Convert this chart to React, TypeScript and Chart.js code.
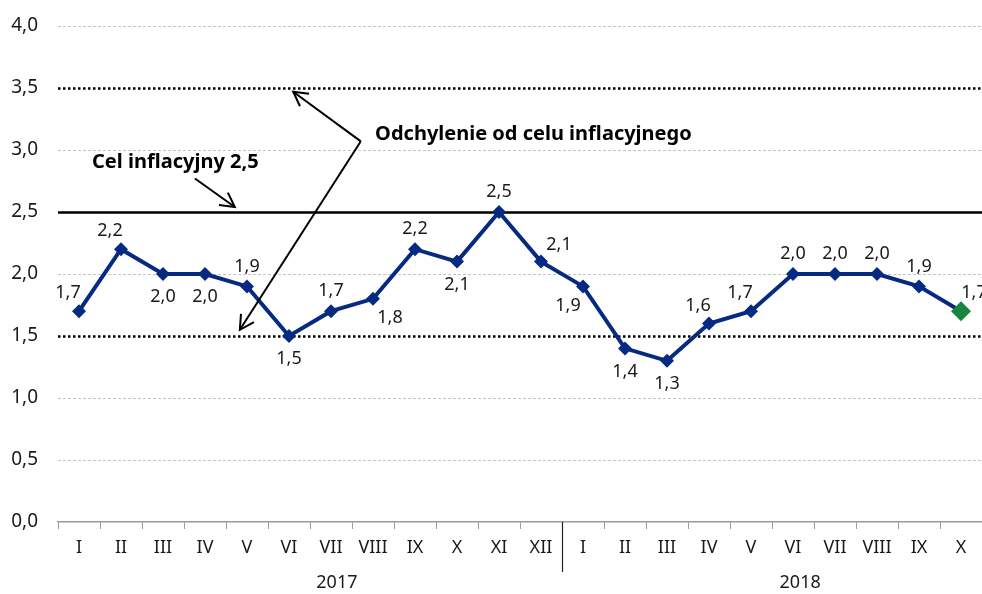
import React, { useEffect, useRef } from "react";
import { Chart, registerables } from "chart.js";

Chart.register(...registerables);

const months = ["I","II","III","IV","V","VI","VII","VIII","IX","X","XI","XII","I","II","III","IV","V","VI","VII","VIII","IX","X"];
const cpi = [1.7,2.2,2.0,2.0,1.9,1.5,1.7,1.8,2.2,2.1,2.5,2.1,1.9,1.4,1.3,1.6,1.7,2.0,2.0,2.0,1.9,1.7];
const labelPlacement = ["tl","tl","b","b","t","b","t","br","t","b","t","tr","bl","b","b","tl","tl","t","t","t","t","tre"];
const years = ["2017", "2018"];
const yearCenters = [6.14, 17.17];
const yTicks = [0, 0.5, 1.0, 1.5, 2.0, 2.5, 3.0, 3.5, 4.0];
const target = 2.5;
const bandLow = 1.5;
const bandHigh = 3.5;
const targetLabel = "Cel inflacyjny 2,5";
const bandLabel = "Odchylenie od celu inflacyjnego";

const fmt = (v: number) => v.toFixed(1).replace(".", ",");
const FONT = "'Noto Sans', 'Open Sans', sans-serif";
const NAVY = "#062a82";

function arrow(ctx: CanvasRenderingContext2D, x1: number, y1: number, x2: number, y2: number) {
  ctx.beginPath();
  ctx.moveTo(x1, y1);
  ctx.lineTo(x2, y2);
  ctx.stroke();
  const a = Math.atan2(y2 - y1, x2 - x1);
  const L = 16, w = 0.5;
  ctx.beginPath();
  ctx.moveTo(x2 - L * Math.cos(a - w), y2 - L * Math.sin(a - w));
  ctx.lineTo(x2, y2);
  ctx.lineTo(x2 - L * Math.cos(a + w), y2 - L * Math.sin(a + w));
  ctx.stroke();
}

const linesPlugin = {
  id: "customLines",
  beforeDatasetsDraw(chart: any) {
    const { ctx, chartArea, scales } = chart;
    const y = scales.y;
    ctx.save();
    for (const t of yTicks) {
      if (t === 0) continue;
      const py = Math.round(y.getPixelForValue(t)) + 0.5;
      ctx.beginPath();
      if (t === target) {
        ctx.strokeStyle = "#000";
        ctx.lineWidth = 2.5;
        ctx.setLineDash([]);
      } else if (t === bandLow || t === bandHigh) {
        ctx.strokeStyle = "#000";
        ctx.lineWidth = 2.5;
        ctx.setLineDash([2.5, 2.5]);
      } else {
        ctx.strokeStyle = "#c4c4c4";
        ctx.lineWidth = 1;
        ctx.setLineDash([3, 2]);
      }
      ctx.moveTo(chartArea.left, py);
      ctx.lineTo(chartArea.right, py);
      ctx.stroke();
    }
    ctx.restore();
  },
  afterDatasetsDraw(chart: any) {
    const { ctx, scales, chartArea } = chart;
    const x = scales.x, y = scales.y;
    const meta = chart.getDatasetMeta(0);
    ctx.save();
    // data labels
    ctx.font = `18px ${FONT}`;
    ctx.fillStyle = "#1a1a1a";
    ctx.textAlign = "center";
    ctx.textBaseline = "middle";
    meta.data.forEach((pt: any, i: number) => {
      const p = labelPlacement[i];
      let dx = 0, dy = 0;
      if (p === "t") { dy = -20; }
      else if (p === "b") { dy = 23; }
      else if (p === "tl") { dx = -11; dy = -18; }
      else if (p === "tr") { dx = 18; dy = -17; }
      else if (p === "tre") { dx = 13; dy = -18; }
      else if (p === "bl") { dx = -15; dy = 19; }
      else if (p === "br") { dx = 17; dy = 19; }
      ctx.fillText(fmt(cpi[i]), pt.x + dx, pt.y + dy);
    });
    // annotations
    ctx.font = `bold 20px ${FONT}`;
    ctx.fillStyle = "#000";
    ctx.textAlign = "left";
    ctx.fillText(targetLabel, x.getPixelForValue(0.31), y.getPixelForValue(2.9));
    ctx.fillText(bandLabel, x.getPixelForValue(7.05), y.getPixelForValue(3.13));
    ctx.strokeStyle = "#000";
    ctx.lineWidth = 2;
    ctx.setLineDash([]);
    arrow(ctx, x.getPixelForValue(2.76), y.getPixelForValue(2.77), x.getPixelForValue(3.71), y.getPixelForValue(2.54));
    const vx = x.getPixelForValue(6.71), vy = y.getPixelForValue(3.07);
    arrow(ctx, vx, vy, x.getPixelForValue(5.1), y.getPixelForValue(3.47));
    arrow(ctx, vx, vy, x.getPixelForValue(3.83), y.getPixelForValue(1.55));
    // year labels & separator
    ctx.font = `18px ${FONT}`;
    ctx.fillStyle = "#1a1a1a";
    ctx.textAlign = "center";
    years.forEach((yr, i) => {
      ctx.fillText(yr, x.getPixelForValue(yearCenters[i]), chartArea.bottom + 61);
    });
    const sx = Math.round(x.getPixelForValue(11.5)) + 0.5;
    ctx.strokeStyle = "#222";
    ctx.lineWidth = 1.2;
    ctx.beginPath();
    ctx.moveTo(sx, chartArea.bottom);
    ctx.lineTo(sx, chartArea.bottom + 50);
    ctx.stroke();
    ctx.restore();
  },
};

export default function App() {
  const ref = useRef<HTMLCanvasElement | null>(null);
  useEffect(() => {
    if (!ref.current) return;
    const pointColors = cpi.map((_, i) => (i === cpi.length - 1 ? "#16873d" : NAVY));
    const pointRadius = cpi.map((_, i) => (i === cpi.length - 1 ? 10 : 7));
    const chart = new Chart(ref.current, {
      type: "line",
      data: {
        labels: months,
        datasets: [
          {
            data: cpi,
            borderColor: NAVY,
            borderWidth: 4,
            pointStyle: "rectRot",
            pointRadius,
            pointBackgroundColor: pointColors,
            pointBorderColor: pointColors,
            pointBorderWidth: 0,
            tension: 0,
          },
        ],
      },
      options: {
        animation: false,
        responsive: false,
        maintainAspectRatio: false,
        layout: { autoPadding: false, padding: { top: 26, right: 0, left: 0, bottom: 0 } },
        plugins: { legend: { display: false }, tooltip: { enabled: false } },
        scales: {
          x: {
            type: "category",
            offset: true,
            grid: { display: true, drawOnChartArea: false, drawTicks: true, tickLength: 7, color: "#9a9a9a", offset: true },
            border: { display: true, color: "#9a9a9a", width: 1.5 },
            ticks: { color: "#1a1a1a", font: { family: FONT, size: 18 }, padding: 8, maxRotation: 0, autoSkip: false },
            afterFit: (s: any) => { s.height = 72; s.paddingLeft = 0; s.paddingRight = 0; },
          },
          y: {
            min: 0,
            max: 4,
            grid: { display: false, drawTicks: false },
            border: { display: false },
            ticks: { stepSize: 0.5, color: "#1a1a1a", font: { family: FONT, size: 19 }, padding: 20, callback: (v: any) => fmt(Number(v)) },
            afterFit: (s: any) => { s.width = 58; s.paddingTop = 0; s.paddingBottom = 0; },
          },
        },
      },
      plugins: [linesPlugin],
    } as any);
    return () => chart.destroy();
  }, []);
  return (
    <div style={{ position: "absolute", left: 0, top: 0, width: 982, height: 594, background: "#fff" }}>
      <canvas ref={ref} width={982} height={594} style={{ display: "block" }} />
    </div>
  );
}
